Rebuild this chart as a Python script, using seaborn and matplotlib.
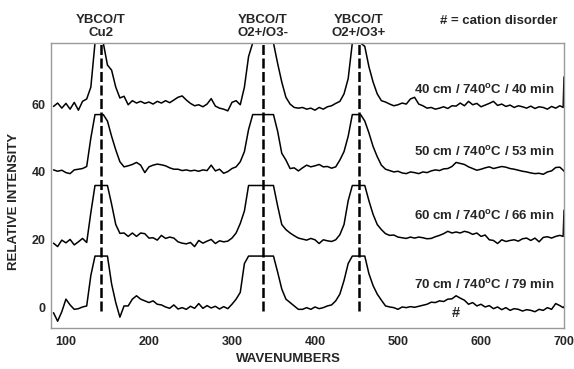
import numpy as np
import pandas as pd
import matplotlib
matplotlib.use("Agg")
import matplotlib.pyplot as plt
import seaborn as sns

# ---------------- data ----------------
wavenumbers = list(range(85, 700, 5)) + [699, 700]

# relative intensities (before vertical offset), flat tops are detector saturation
trace_70cm = [
    -1.5, -4.0, -1.2, 2.5, 0.8, -0.5, -0.3, 0.2, 0.5, 9.5,
    15.2, 15.2, 15.2, 15.2, 7.0, 1.5, -2.8, 0.5, 0.5, 2.5,
    3.5, 2.5, 2.0, 1.5, 2.0, 1.0, 0.8, 0.2, -0.2, 0.8,
    -0.4, 0.0, -0.5, 0.4, -0.2, 1.2, -0.2, 0.6, -0.1, 0.4,
    -0.4, 0.3, -0.3, 1.0, 2.5, 4.5, 13.0, 15.2, 15.2, 15.2,
    15.2, 15.2, 15.2, 15.2, 10.5, 5.5, 2.5, 1.5, 0.5, -0.5,
    -0.5, 0.0, -0.5, 0.2, -0.3, 0.0, 0.5, 0.8, 2.0, 4.0,
    8.0, 13.0, 15.2, 15.2, 15.2, 15.2, 10.0, 6.5, 4.0, 2.2,
    0.5, 0.2, 0.0, -0.5, 0.2, 0.0, 0.3, 0.1, 0.4, 0.7,
    1.0, 1.6, 1.5, 2.0, 1.8, 2.5, 2.6, 3.5, 2.8, 2.2,
    1.0, 1.5, 0.5, 1.0, 0.2, 0.6, -0.3, 0.2, -0.6, 0.0,
    -0.8, -0.3, -0.5, -1.0, -0.6, -0.8, -1.2, -0.5, -0.8, 0.0,
    -0.5, 1.2, 0.6, 0.0, 0.3,
]
trace_60cm = [
    -1.0, -2.0, -0.1, -0.9, 0.1, -1.5, -0.6, 0.4, -0.8, 8.0,
    16.0, 16.0, 16.0, 16.0, 10.5, 4.5, 1.9, 2.0, 1.0, 2.0,
    1.0, 2.0, 1.8, 0.5, 0.6, -0.1, 1.3, 0.4, 0.8, 0.5,
    -0.6, -1.0, -1.2, -0.8, -2.0, -0.2, -1.0, -0.4, 0.1, -1.1,
    -0.3, -0.6, -0.4, 0.5, 2.0, 4.8, 8.5, 16.0, 16.0, 16.0,
    16.0, 16.0, 16.0, 16.0, 10.0, 4.5, 3.0, 2.0, 1.2, 0.5,
    0.2, -0.1, 0.4, 0.0, -1.1, 0.0, -0.3, -0.5, 0.0, 1.5,
    4.5, 11.5, 16.0, 16.0, 16.0, 16.0, 11.5, 7.5, 4.5, 3.0,
    1.8, 1.3, 1.4, 0.8, 0.6, 0.4, 0.8, 0.5, 0.8, 0.6,
    0.3, 0.4, 0.9, 1.3, 1.8, 2.5, 2.0, 2.3, 2.0, 2.5,
    2.2, 1.6, 2.0, 1.0, 1.4, 0.0, -0.2, -1.1, 0.0, -0.5,
    -0.2, 0.0, -0.4, 0.3, 0.5, -0.2, 0.5, -0.6, 0.7, 0.9,
    0.5, 1.0, 1.3, 1.0, 8.7,
]
trace_50cm = [
    0.6, 0.2, 0.5, -0.2, -0.5, 0.6, 0.8, 1.0, 1.6, 10.0,
    16.9, 16.9, 16.9, 15.0, 10.5, 6.5, 3.0, 1.5, 1.8, 2.2,
    2.8, 2.0, -0.2, 1.5, 2.0, 2.3, 2.1, 1.8, 1.2, 0.8,
    0.8, 0.4, 0.6, 0.3, 0.5, 0.2, 0.6, 0.4, 2.0, 0.3,
    0.8, -0.4, 0.1, 1.0, 1.5, 3.0, 6.0, 12.5, 16.9, 16.9,
    16.9, 16.9, 16.9, 16.9, 12.0, 5.5, 3.5, 1.0, 1.2, 0.3,
    1.2, 2.0, 1.5, 1.8, 2.2, 1.5, 1.6, 1.1, 1.5, 3.5,
    6.0, 10.5, 16.9, 16.9, 16.9, 15.0, 11.5, 7.5, 4.5, 2.0,
    0.8, 0.4, 0.0, 0.2, -0.3, -0.5, 0.0, -0.2, -0.5, 0.0,
    -0.2, 0.3, 0.6, 0.4, 0.9, 1.0, 1.6, 2.8, 2.5, 2.2,
    1.5, 1.0, 0.5, 0.8, 1.2, 1.5, 1.0, 1.3, 1.6, 1.4,
    1.0, 0.8, 0.5, 0.2, 0.0, -0.3, -0.5, -0.4, -0.7, 0.0,
    0.3, 1.3, 1.4, 0.5, 0.2,
]
trace_40cm = [
    -0.7, 0.3, -1.2, 0.2, -1.5, 0.5, -1.8, 0.8, 1.5, 5.0,
    18.0, 18.0, 18.0, 11.5, 10.0, 5.0, 1.8, 2.3, -0.2, 1.0,
    0.3, 0.8, 0.2, 0.6, 0.0, 0.8, 0.3, 1.0, 0.4, 1.2,
    2.0, 2.4, 1.2, 0.2, -0.5, -0.2, -0.8, 0.0, 1.6, -0.6,
    -1.2, -1.5, -2.0, 0.5, 1.0, -0.2, 5.0, 14.0, 18.0, 18.0,
    18.0, 18.0, 18.0, 18.0, 12.0, 6.5, 2.0, 0.0, -1.0, -1.2,
    -1.0, -1.5, -1.2, -1.8, -1.0, -1.5, -0.8, -0.5, 0.2, 0.8,
    3.0, 7.5, 18.0, 18.0, 18.0, 17.0, 11.0, 6.5, 3.0, 1.0,
    0.6, 0.0, -0.5, -0.2, 0.3, 0.0, 1.5, 2.0, 0.0, -0.5,
    -1.2, -1.0, -1.5, -1.2, -0.8, -1.3, -0.5, -0.6, 0.3, -0.5,
    0.8, -0.2, 0.2, -0.8, -0.3, 0.2, 0.8, -0.4, 0.0, -0.7,
    -0.3, -1.0, -0.5, -0.8, -1.2, -0.6, -1.3, -0.8, -1.0, -1.5,
    -0.7, -1.2, -0.5, -1.0, 8.0,
]

samples = ["70 cm", "60 cm", "50 cm", "40 cm"]
offsets = [0, 20, 40, 60]
sample_labels = ["70 cm / 740$^{o}$C / 79 min", "60 cm / 740$^{o}$C / 66 min",
                 "50 cm / 740$^{o}$C / 53 min", "40 cm / 740$^{o}$C / 40 min"]
label_y = [6.7, 27.0, 46.0, 64.3]

peak_positions = [142, 337, 453]
peak_labels = ["YBCO/T\nCu2", "YBCO/T\nO2+/O3-", "YBCO/T\nO2+/O3+"]

x_ticks = [100, 200, 300, 400, 500, 600, 700]
y_ticks = [0, 20, 40, 60]

# ---------------- build table ----------------
traces = [trace_70cm, trace_60cm, trace_50cm, trace_40cm]
rows = []
for name, off, tr in zip(samples, offsets, traces):
    assert len(tr) == len(wavenumbers), (name, len(tr))
    for w, v in zip(wavenumbers, tr):
        rows.append({"sample": name, "wavenumber": w, "intensity": v + off})
df = pd.DataFrame(rows)

# ---------------- style ----------------
sns.set_style("white")
plt.rcParams["font.family"] = ["Liberation Sans", "DejaVu Sans"]
plt.rcParams["font.weight"] = "bold"
plt.rcParams["mathtext.fontset"] = "custom"
plt.rcParams["mathtext.rm"] = "Liberation Sans:bold"
plt.rcParams["mathtext.it"] = "Liberation Sans:bold"
plt.rcParams["mathtext.bf"] = "Liberation Sans:bold"

fig = plt.figure(figsize=(5.74, 3.69), dpi=100)
ax = fig.add_axes([51 / 574, 1 - 328 / 369, (564 - 51) / 574, (328 - 43) / 369])

sns.lineplot(data=df, x="wavenumber", y="intensity", units="sample",
             estimator=None, sort=False, color="black", linewidth=1.1,
             ax=ax, legend=False)

for p in peak_positions:
    ax.plot([p, p], [-1, 78], color="black", lw=1.8,
            linestyle=(0, (4, 1.4)), zorder=3)

ax.set_xlim(82, 700)
ax.set_ylim(-6, 78)
ax.set_xticks(x_ticks)
ax.set_yticks(y_ticks)
ax.tick_params(axis="x", length=0, pad=6, labelsize=9)
ax.tick_params(axis="y", length=3, width=0.8, color="#999999", pad=1, labelsize=9)
for lab in ax.get_xticklabels() + ax.get_yticklabels():
    lab.set_fontweight("bold")
for s in ax.spines.values():
    s.set_color("#999999")
    s.set_linewidth(1.0)

ax.set_xlabel("WAVENUMBERS", fontsize=9.5, fontweight="bold")
ax.set_ylabel("RELATIVE INTENSITY", fontsize=9.5, fontweight="bold")
ax.xaxis.label.set_va("center")
ax.xaxis.set_label_coords(0.463, -0.109)
ax.yaxis.label.set_va("center")
ax.yaxis.set_label_coords(-0.072, 0.443)

for lab, y in zip(sample_labels, label_y):
    ax.text(689, y, lab, ha="right", va="center", fontsize=9.5, fontweight="bold")

for p, lab in zip(peak_positions, peak_labels):
    ax.text(p, 82.9, lab, ha="center", va="center", fontsize=9.5,
            fontweight="bold", linespacing=1.1, clip_on=False)

ax.text(621.7, 84.4, "# = cation disorder", ha="center", va="center",
        fontsize=9.5, fontweight="bold", clip_on=False)
ax.text(570, -1.5, "#", ha="center", va="center", fontsize=10.5, fontweight="bold")

fig.savefig("out.png", dpi=100)
